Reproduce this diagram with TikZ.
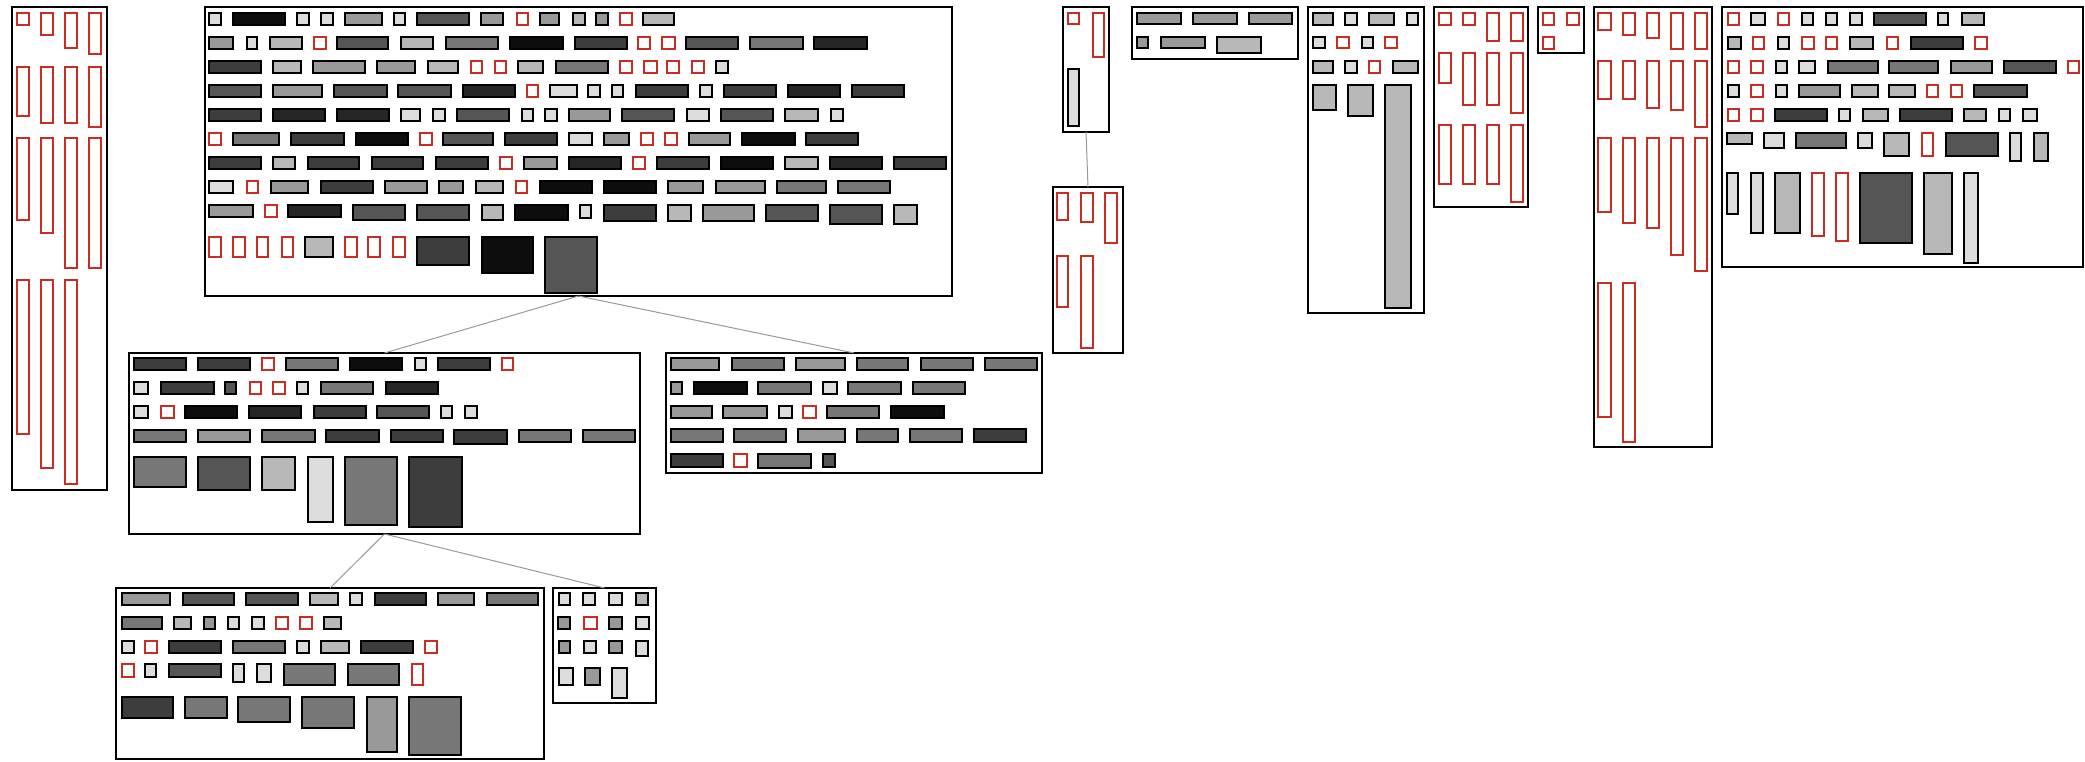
\documentclass[tikz,border=0pt]{standalone}
\usepackage{tikz}

\definecolor{k0}{HTML}{0D0D0D}
\definecolor{k1}{HTML}{262626}
\definecolor{k2}{HTML}{3D3D3D}
\definecolor{k3}{HTML}{555555}
\definecolor{k4}{HTML}{777777}
\definecolor{k5}{HTML}{999999}
\definecolor{k6}{HTML}{B8B8B8}
\definecolor{k7}{HTML}{DCDCDC}
\definecolor{rd}{HTML}{FFFFFF}
\colorlet{lnk0}{black}
\colorlet{lnk1}{black}
\colorlet{lnk2}{black}
\colorlet{lnk3}{black}
\colorlet{lnk4}{black}
\colorlet{lnk5}{black}
\colorlet{lnk6}{black}
\colorlet{lnk7}{black}
\definecolor{lnrd}{RGB}{200,45,35}

\tikzset{
    panel/.style={draw, line width=2.2pt, fill=white, anchor=north west,
        inner sep=0pt, outer sep=0pt},
    cell/.style={line width=1.3pt},
    link/.style={draw=black!40, line width=1pt}
}

\newcommand{\cellrow}[2]{\foreach \x/\w/\h/\c in {#2}
    \draw[cell, fill=\c, draw=ln\c] (\x,#1) rectangle ++(\w,\h);}

\begin{document}
\begin{tikzpicture}[x=1pt, y=-1pt]
        \fill[white] (0,0) rectangle (2085,762);

        \node[panel, minimum width=95pt, minimum height=483pt] (tall) at (12,7) {};
        \node[panel, minimum width=747pt, minimum height=289pt] (hub) at (205,7) {};
        \node[panel, minimum width=511pt, minimum height=181pt] (mid) at (129,353) {};
        \node[panel, minimum width=376pt, minimum height=120pt] (side) at (666,353) {};
        \node[panel, minimum width=428pt, minimum height=171pt] (leaf) at (116,588) {};
        \node[panel, minimum width=103pt, minimum height=115pt] (tip) at (553,588) {};
        \node[panel, minimum width=46pt, minimum height=125pt] (stub) at (1063,7) {};
        \node[panel, minimum width=70pt, minimum height=166pt] (drop) at (1053,187) {};
        \node[panel, minimum width=166pt, minimum height=52pt] (strip) at (1132,7) {};
        \node[panel, minimum width=116pt, minimum height=306pt] (col) at (1308,7) {};
        \node[panel, minimum width=94pt, minimum height=200pt] (grid) at (1434,7) {};
        \node[panel, minimum width=46pt, minimum height=46pt] (pair) at (1538,7) {};
        \node[panel, minimum width=118pt, minimum height=440pt] (tower) at (1594,7) {};
        \node[panel, minimum width=361pt, minimum height=260pt] (wide) at (1722,7) {};

        \draw[link] (hub.south) -- (mid.north);
        \draw[link] (hub.south) -- (side.north);
        \draw[link] (mid.south) -- (leaf.north);
        \draw[link] (mid.south) -- (tip.north);
        \draw[link] (stub.south) -- (drop.north);

        % tall
        \cellrow{13}{17/12/12/rd, 41/12/22/rd, 65/12/35/rd, 89/12/41/rd}
        \cellrow{67}{17/12/49/rd, 41/12/56/rd, 65/12/56/rd, 89/12/60/rd}
        \cellrow{138}{17/12/82/rd, 41/12/95/rd, 65/12/130/rd, 89/12/130/rd}
        \cellrow{280}{17/12/154/rd, 41/12/188/rd, 65/12/204/rd}

        % hub
        \cellrow{13}{209/12/12/k7, 233/52/12/k0, 297/12/12/k7, 321/12/12/k7, 345/37/12/k5, 394/11/12/k7, 417/52/12/k3, 481/22/12/k5, 517/11/12/rd, 540/19/12/k5, 573/12/12/k6, 596/12/12/k5, 620/12/12/rd, 643/31/12/k6}
        \cellrow{37}{209/24/12/k5, 247/10/12/k7, 270/32/12/k6, 314/12/12/rd, 337/51/12/k3, 401/32/12/k6, 446/52/12/k4, 510/53/12/k0, 575/52/12/k2, 638/12/12/rd, 662/13/12/rd, 686/52/12/k3, 750/53/12/k4, 814/53/12/k1}
        \cellrow{61}{209/52/12/k2, 273/28/12/k6, 313/52/12/k5, 377/38/12/k5, 428/30/12/k6, 471/11/12/rd, 495/11/12/rd, 518/25/12/k6, 556/52/12/k4, 620/12/12/rd, 644/13/12/rd, 667/12/12/rd, 692/12/12/rd, 716/12/12/k7}
        \cellrow{85}{209/52/12/k3, 273/49/12/k5, 334/53/12/k3, 398/53/12/k3, 463/52/12/k1, 527/11/12/rd, 550/27/12/k7, 588/12/12/k7, 612/11/12/k7, 636/52/12/k2, 700/12/12/k7, 724/52/12/k2, 788/52/12/k1, 852/52/12/k2}
        \cellrow{109}{209/52/12/k2, 273/52/12/k1, 337/52/12/k1, 401/19/12/k7, 433/12/12/k7, 457/52/12/k3, 522/11/12/k7, 545/12/12/k7, 569/41/12/k5, 622/52/12/k3, 687/22/12/k7, 721/52/12/k3, 785/33/12/k6, 831/12/12/k7}
        \cellrow{133}{209/12/12/rd, 233/46/12/k4, 291/53/12/k2, 356/52/12/k0, 420/12/12/rd, 443/50/12/k3, 505/52/12/k2, 569/23/12/k7, 604/25/12/k5, 641/12/12/rd, 665/12/12/rd, 689/41/12/k5, 742/53/12/k0, 806/52/12/k2}
        \cellrow{157}{209/52/12/k2, 273/22/12/k6, 308/51/12/k2, 372/51/12/k2, 436/52/12/k2, 500/12/12/rd, 524/33/12/k5, 569/52/12/k1, 633/12/12/rd, 657/52/12/k2, 721/52/12/k0, 785/33/12/k6, 830/52/12/k1, 894/52/12/k2}
        \cellrow{181}{209/24/12/k7, 247/11/12/rd, 271/37/12/k5, 321/52/12/k2, 385/42/12/k5, 439/24/12/k5, 476/27/12/k6, 516/11/12/rd, 540/52/12/k0, 604/52/12/k0, 668/35/12/k5, 716/49/12/k5, 777/49/12/k4, 838/52/12/k4}
        \cellrow{205}{209/44/12/k5, 265/12/12/rd, 288/53/12/k1, 353/52/15/k3, 417/52/15/k3, 482/21/15/k6, 515/53/15/k0, 580/11/13/k7, 604/52/16/k2, 668/23/16/k6, 703/51/16/k5, 766/52/16/k3, 830/52/19/k3, 894/23/19/k6}
        \cellrow{237}{209/12/20/rd, 233/12/20/rd, 257/11/20/rd, 282/11/20/rd, 305/28/20/k6, 345/12/20/rd, 368/12/20/rd, 393/12/20/rd, 417/52/28/k2, 482/51/36/k0, 545/52/56/k3}

        % mid
        \cellrow{358}{134/52/12/k2, 198/52/12/k2, 262/12/12/rd, 286/52/12/k4, 350/52/12/k0, 415/11/12/k7, 438/52/12/k2, 502/11/12/rd}
        \cellrow{382}{134/14/12/k7, 161/53/12/k2, 225/11/12/k3, 250/11/12/rd, 273/12/12/rd, 297/11/12/k7, 321/52/12/k4, 386/52/12/k1}
        \cellrow{406}{134/14/12/k7, 161/13/12/rd, 185/52/12/k0, 249/52/12/k1, 314/52/12/k2, 377/52/12/k3, 441/11/12/k7, 465/12/12/k7}
        \cellrow{430}{134/52/12/k4, 198/52/12/k5, 262/53/12/k4, 326/53/12/k2, 391/52/12/k2, 454/53/14/k2, 519/52/12/k4, 583/52/12/k4}
        \cellrow{457}{134/52/30/k4, 198/52/33/k3, 262/33/33/k6, 308/25/65/k7, 345/52/68/k4, 409/53/70/k2}

        % side
        \cellrow{358}{671/48/12/k5, 732/52/12/k4, 796/49/12/k5, 857/51/12/k4, 921/52/12/k4, 985/52/12/k4}
        \cellrow{382}{671/11/12/k5, 694/53/12/k0, 758/53/12/k4, 823/14/12/k7, 848/53/12/k4, 913/52/12/k4}
        \cellrow{406}{671/41/12/k5, 723/44/12/k5, 779/13/12/k7, 803/13/12/rd, 827/52/12/k4, 891/53/12/k0}
        \cellrow{429}{671/52/13/k4, 734/52/13/k4, 798/47/13/k5, 857/41/13/k4, 910/52/13/k4, 974/52/13/k2}
        \cellrow{454}{671/52/13/k2, 734/13/13/rd, 758/53/14/k4, 823/12/13/k3}

        % leaf
        \cellrow{593}{122/48/12/k5, 183/51/12/k3, 246/52/12/k3, 310/28/12/k6, 350/12/12/k7, 375/51/12/k2, 438/36/12/k5, 487/51/12/k4}
        \cellrow{617}{122/40/12/k4, 174/17/12/k6, 204/11/12/k5, 228/11/12/k7, 252/12/12/k7, 276/12/12/rd, 300/12/12/rd, 324/17/12/k6}
        \cellrow{641}{122/12/12/k7, 145/12/12/rd, 169/52/12/k2, 233/52/12/k4, 297/12/12/k7, 321/28/12/k6, 361/52/12/k2, 425/12/12/rd}
        \cellrow{664}{122/12/13/rd, 145/11/13/k7, 169/52/13/k3, 233/11/18/k7, 257/14/18/k7, 284/51/21/k4, 348/51/21/k4, 412/11/21/rd}
        \cellrow{697}{122/51/21/k2, 185/42/21/k4, 238/52/25/k4, 302/52/31/k4, 367/30/55/k5, 409/52/58/k4}

        % tip
        \cellrow{593}{559/11/12/k7, 583/12/12/k7, 609/13/12/k7, 636/12/12/k6}
        \cellrow{617}{558/12/12/k5, 584/13/12/rd, 609/13/12/k5, 636/13/12/k7}
        \cellrow{641}{559/11/12/k5, 584/12/12/k7, 609/13/12/k5, 636/12/15/k7}
        \cellrow{668}{559/14/17/k7, 585/15/17/k5, 612/15/30/k7}

        % stub, drop, strip
        \cellrow{13}{1068/11/11/rd, 1093/11/44/rd}
        \cellrow{69}{1068/11/57/k7}
        \cellrow{193}{1057/11/27/rd, 1081/12/29/rd, 1105/12/50/rd}
        \cellrow{256}{1057/11/51/rd, 1081/12/92/rd}
        \cellrow{13}{1137/44/11/k5, 1193/44/11/k5, 1249/43/11/k5}
        \cellrow{37}{1137/11/11/k5, 1161/44/11/k5, 1217/44/16/k6}

        % col
        \cellrow{13}{1313/20/12/k6, 1345/12/12/k7, 1369/25/12/k6, 1407/11/12/k7}
        \cellrow{37}{1313/12/11/k7, 1337/12/11/rd, 1362/11/11/k7, 1385/12/11/rd}
        \cellrow{61}{1313/20/12/k6, 1345/12/12/k7, 1369/11/12/rd, 1393/25/12/k6}
        \cellrow{85}{1313/23/25/k6, 1348/25/31/k6, 1385/26/223/k6}

        % grid, pair
        \cellrow{13}{1439/12/12/rd, 1463/12/12/rd, 1487/12/28/rd, 1511/12/28/rd}
        \cellrow{53}{1439/12/30/rd, 1463/12/52/rd, 1487/12/52/rd, 1511/12/60/rd}
        \cellrow{125}{1439/12/59/rd, 1463/12/59/rd, 1487/12/59/rd, 1511/12/77/rd}
        \cellrow{13}{1543/11/12/rd, 1567/12/12/rd}
        \cellrow{37}{1543/11/12/rd}

        % tower
        \cellrow{13}{1598/13/17/rd, 1623/12/22/rd, 1647/12/25/rd, 1671/12/36/rd, 1695/12/36/rd}
        \cellrow{61}{1598/13/38/rd, 1623/12/38/rd, 1647/12/47/rd, 1671/12/49/rd, 1695/12/66/rd}
        \cellrow{138}{1598/13/74/rd, 1623/12/85/rd, 1647/12/90/rd, 1671/12/117/rd, 1695/12/133/rd}
        \cellrow{283}{1598/13/134/rd, 1623/12/159/rd}

        % wide
        \cellrow{13}{1728/11/12/rd, 1751/14/12/k7, 1778/11/12/rd, 1802/11/12/k7, 1826/11/12/k7, 1850/12/12/k7, 1874/52/12/k3, 1938/10/12/k7, 1962/22/12/k6}
        \cellrow{37}{1728/13/12/k6, 1753/11/12/rd, 1778/11/12/k7, 1802/12/12/rd, 1826/11/12/rd, 1850/23/12/k6, 1887/11/12/rd, 1911/52/12/k2, 1975/12/12/rd}
        \cellrow{61}{1728/11/12/rd, 1751/12/12/rd, 1776/11/12/k7, 1799/16/12/k7, 1828/50/12/k4, 1889/49/12/k4, 1951/41/12/k5, 2004/52/12/k3, 2068/11/12/rd}
        \cellrow{85}{1728/11/12/k7, 1751/12/12/rd, 1776/11/12/k7, 1799/41/12/k5, 1852/26/12/k6, 1889/26/12/k6, 1927/11/12/rd, 1951/11/12/rd, 1974/53/12/k3}
        \cellrow{109}{1728/11/12/rd, 1751/12/12/rd, 1775/52/12/k2, 1839/11/12/k7, 1863/25/12/k6, 1900/52/12/k2, 1964/22/12/k6, 1999/11/12/k7, 2023/14/12/k7}
        \cellrow{133}{1727/25/11/k6, 1764/20/15/k7, 1796/50/15/k4, 1858/14/15/k7, 1884/25/23/k6, 1922/11/23/rd, 1946/52/23/k3, 2010/11/28/k7, 2034/14/28/k6}
        \cellrow{173}{1727/11/41/k7, 1751/12/60/k7, 1775/25/60/k6, 1812/12/63/rd, 1836/12/68/rd, 1860/52/70/k3, 1924/28/81/k6, 1964/14/90/k7}
\end{tikzpicture}
\end{document}
